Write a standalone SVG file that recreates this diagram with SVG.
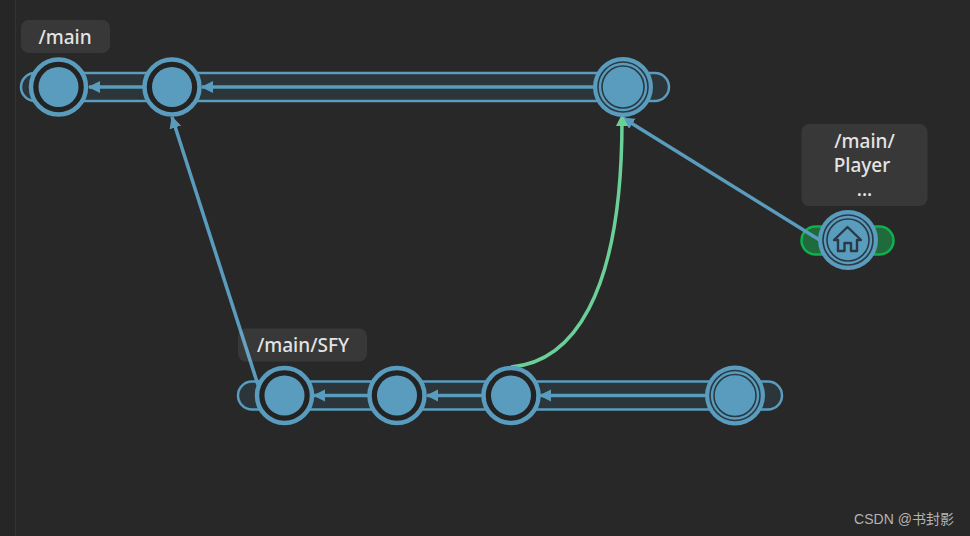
<svg xmlns="http://www.w3.org/2000/svg" width="970" height="536" viewBox="0 0 970 536">
<style>
.track{fill:#2b353a;stroke:#5a9cbd;stroke-width:2.5}
.pill{fill:#1f6b3c;stroke:#0fb04f;stroke-width:2.5}
.blue{fill:#5a9cbd}
.ring{fill:#232323;stroke:#5a9cbd;stroke-width:4.500}
.thin{fill:none;stroke:#2a3a44;stroke-width:1.6}
.edge{fill:none;stroke:#5a9cbd;stroke-width:3.500}
.label{fill:#fff;fill-opacity:.08}
.t{font-family:"Noto Sans","Open Sans","Liberation Sans",sans-serif;font-size:19px;font-weight:500;fill:#e4e4e4;text-anchor:middle}
</style>
<defs>
<marker id="arrow" markerUnits="userSpaceOnUse" markerWidth="14" markerHeight="14" refX="11" refY="6" orient="auto"><path d="M0 0L12 6L0 12z" fill="#5a9cbd"/></marker>
<marker id="arrowG" markerUnits="userSpaceOnUse" markerWidth="14" markerHeight="14" refX="6" refY="6" orient="auto"><path d="M0 0L12 6L0 12z" fill="#6bd098"/></marker>
</defs>
<rect width="970" height="536" fill="#282828"/>
<rect x="0" y="0" width="16" height="536" fill="#262626"/>
<line x1="15.500" y1="0" x2="15.500" y2="536" stroke="#333"/>
<g id="tracks">
<rect class="track" x="21" y="73" width="648" height="28" rx="14"/>
<rect class="track" x="238" y="381.500" width="544" height="28" rx="14"/>
<rect class="pill" x="801.500" y="226.500" width="92" height="28" rx="14"/>
</g>
<g id="connectors">
<line class="edge" x1="145" y1="87" x2="89" y2="87" marker-end="url(#arrow)"/>
<line class="edge" x1="596" y1="87" x2="202" y2="87" marker-end="url(#arrow)"/>
<line class="edge" x1="370" y1="395.500" x2="314" y2="395.500" marker-end="url(#arrow)"/>
<line class="edge" x1="484" y1="395.500" x2="427" y2="395.500" marker-end="url(#arrow)"/>
<line class="edge" x1="708" y1="395.500" x2="540" y2="395.500" marker-end="url(#arrow)"/>
<line class="edge" x1="258" y1="385" x2="172" y2="117" marker-end="url(#arrow)"/>
<line class="edge" x1="826" y1="244" x2="623" y2="118" marker-end="url(#arrow)"/>
<path d="M511 367C570 362 622 300 622 120" fill="none" stroke="#6bd098" stroke-width="3.500" marker-end="url(#arrowG)"/>
</g>
<g id="node-main-1"><circle class="ring" cx="58.500" cy="87" r="27.500"/><circle class="blue" cx="58.500" cy="87" r="20"/></g>
<g id="node-main-2"><circle class="ring" cx="172" cy="87" r="27.500"/><circle class="blue" cx="172" cy="87" r="20"/></g>
<g id="node-main-3"><circle class="blue" cx="623" cy="87" r="30"/><circle class="thin" cx="623" cy="87" r="25"/><circle class="thin" cx="623" cy="87" r="21"/></g>
<g id="node-sfy-1"><circle class="ring" cx="284.500" cy="395.500" r="27.500"/><circle class="blue" cx="284.500" cy="395.500" r="20"/></g>
<g id="node-sfy-2"><circle class="ring" cx="397" cy="395.500" r="27.500"/><circle class="blue" cx="397" cy="395.500" r="20"/></g>
<g id="node-sfy-3"><circle class="ring" cx="511" cy="395.500" r="27.500"/><circle class="blue" cx="511" cy="395.500" r="20"/></g>
<g id="node-sfy-4"><circle class="blue" cx="735" cy="395.500" r="30"/><circle class="thin" cx="735" cy="395.500" r="25"/><circle class="thin" cx="735" cy="395.500" r="21"/></g>
<g id="node-player"><circle class="blue" cx="848" cy="240" r="30"/><circle class="thin" cx="848" cy="240" r="25"/><circle class="thin" cx="848" cy="240" r="21"/>
<path d="M834 240L847.500 227L861 240H857V251H851V243H844.500V251H838V240z" fill="none" stroke="#2a3a44" stroke-width="2.400" stroke-linejoin="round"/></g>
<g id="label-main"><rect class="label" x="21" y="20" width="89" height="33" rx="8"/><text class="t" x="65" y="44">/main</text></g>
<g id="label-sfy"><rect class="label" x="238" y="328.500" width="129" height="33" rx="8"/><text class="t" x="303" y="352">/main/SFY</text></g>
<g id="label-player"><rect class="label" x="801.500" y="124" width="126" height="82" rx="8"/><text class="t" x="864.500" y="148">/main/</text><text class="t" x="862" y="172">Player</text><text class="t" x="864.500" y="196">...</text></g>
<text x="904" y="524" font-family="'Liberation Sans','Noto Sans CJK SC',sans-serif" font-size="14" fill="#b4b4b4" text-anchor="middle">CSDN @书封影</text>
</svg>
